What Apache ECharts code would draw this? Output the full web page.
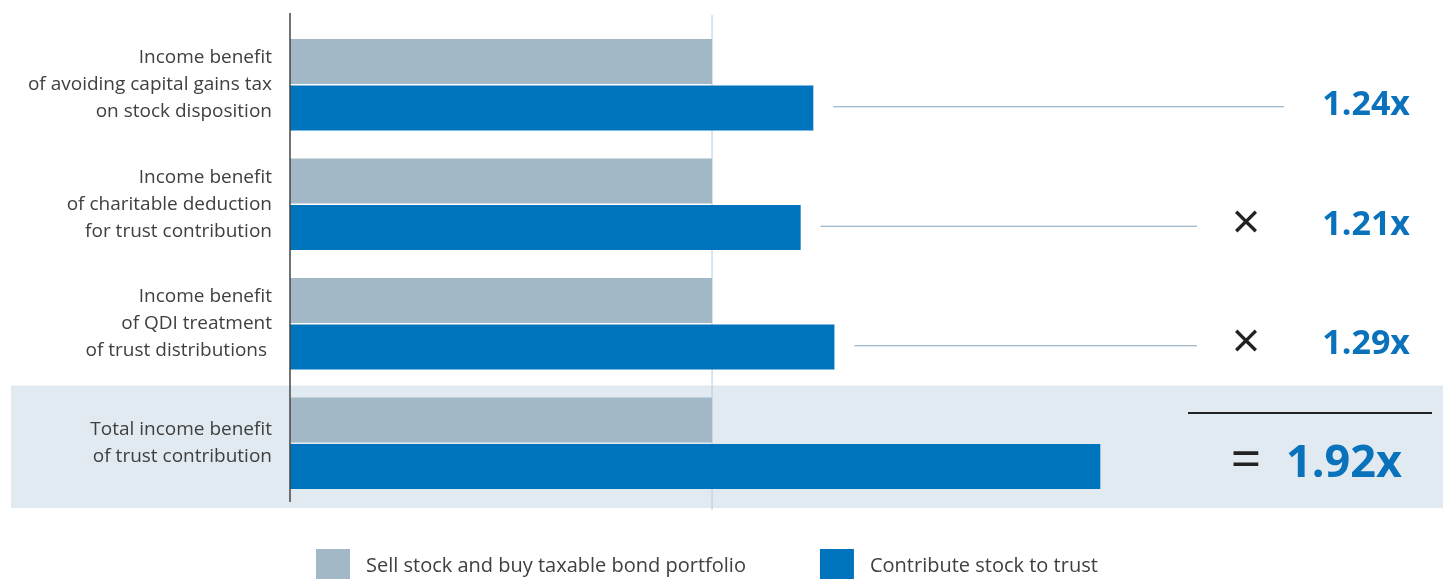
<!DOCTYPE html>
<html>
<head>
<meta charset="utf-8">
<script src="https://cdn.jsdelivr.net/npm/echarts@6/dist/echarts.min.js"></script>
<style>
html,body{margin:0;padding:0;background:#fff;}
#chart{width:1443px;height:579px;}
</style>
</head>
<body>
<div id="chart"></div>
<script>
var categories = [
  'Income benefit\nof avoiding capital gains tax\non stock disposition',
  'Income benefit\nof charitable deduction\nfor trust contribution',
  'Income benefit\nof QDI treatment\nof trust distributions ',
  'Total income benefit\nof trust contribution'
];
var seriesNames = ['Sell stock and buy taxable bond portfolio', 'Contribute stock to trust'];
var sellValues = [1, 1, 1, 1];
var trustValues = [1.24, 1.21, 1.29, 1.92];
var multiplierLabels = ['1.24x', '1.21x', '1.29x', '1.92x'];
var operators = ['', '\u00d7', '\u00d7', '='];

var FONT = '"Open Sans", "Noto Sans", sans-serif';
var GRAY = '#a3b8c6';
var BLUE = '#0073bd';

var chart = echarts.init(document.getElementById('chart'));
var option = {
  animation: false,
  grid: {left: 290, top: 25, height: 478, right: 0, containLabel: false},
  xAxis: {type: 'value', min: 0, max: 2.732, show: false},
  yAxis: {
    type: 'category', data: categories, inverse: true,
    axisLine: {show: false}, axisTick: {show: false},
    axisLabel: {fontFamily: FONT, fontSize: 19, color: '#404040', lineHeight: 27, margin: 18, align: 'right'}
  },
  legend: {
    left: 316, top: 549, padding: 0, itemWidth: 34, itemHeight: 34, itemGap: 74,
    icon: 'rect',
    textStyle: {fontFamily: FONT, fontSize: 20, color: '#404040', padding: [3, 0, 0, 11]},
    data: seriesNames
  },
  series: [
    {name: seriesNames[0], type: 'bar', data: sellValues, barWidth: 45, barGap: '3%', itemStyle: {color: GRAY}, z: 3},
    {name: seriesNames[1], type: 'bar', data: trustValues, barWidth: 45, itemStyle: {color: BLUE}, z: 3}
  ]
};
chart.setOption(option);

function px(v, i) { return chart.convertToPixel({gridIndex: 0}, [v, categories[i]]); }
var lineEnds = [2.355, 2.149, 2.149];
var g = [];
var last = categories.length - 1;
var lastC = px(0, last);
var band = chart.convertToPixel({yAxisIndex: 0}, categories[1]) - chart.convertToPixel({yAxisIndex: 0}, categories[0]);
g.push({type: 'rect', z: -10, shape: {x: 11, y: lastC[1] - band / 2 + 2, width: 1443 - 11, height: band + 3}, style: {fill: '#e1eaf0'}});
var x0 = px(0, 0)[0];
g.push({type: 'line', z: 10, shape: {x1: x0, y1: 13, x2: x0, y2: 502}, style: {stroke: '#444', lineWidth: 1.5}});
var x1 = px(1, 0)[0];
g.push({type: 'line', z: 1, shape: {x1: x1, y1: 15, x2: x1, y2: 510}, style: {stroke: '#b4cde0', lineWidth: 1}});
for (var i = 0; i < categories.length; i++) {
  var c = px(trustValues[i], i);
  var yc = c[1] + 23;
  if (i < lineEnds.length) {
    var e = px(lineEnds[i], i);
    g.push({type: 'line', shape: {x1: c[0] + 20, y1: yc - 1, x2: e[0], y2: yc - 1}, style: {stroke: '#7fa3bf', lineWidth: 1}});
  }
  var big = (i === last);
  g.push({type: 'text', z: 20, style: {text: multiplierLabels[i], x: big ? 1402 : 1410, y: yc - 2, align: 'right', verticalAlign: 'middle',
    font: '700 ' + (big ? 45 : 34) + 'px ' + FONT, fill: '#0a72bb'}});
  if (operators[i]) {
    var isEq = operators[i] === '=';
    g.push({type: 'text', z: 20, style: {text: operators[i], x: 1246, y: yc - (isEq ? 4 : 3), align: 'center', verticalAlign: 'middle',
      font: (isEq ? '400 54' : '400 50') + 'px ' + FONT, fill: '#222'}});
  }
}
g.push({type: 'line', z: 20, shape: {x1: 1188, y1: 413, x2: 1432, y2: 413}, style: {stroke: '#222', lineWidth: 2}});
chart.setOption({graphic: g});
</script>
</body>
</html>
